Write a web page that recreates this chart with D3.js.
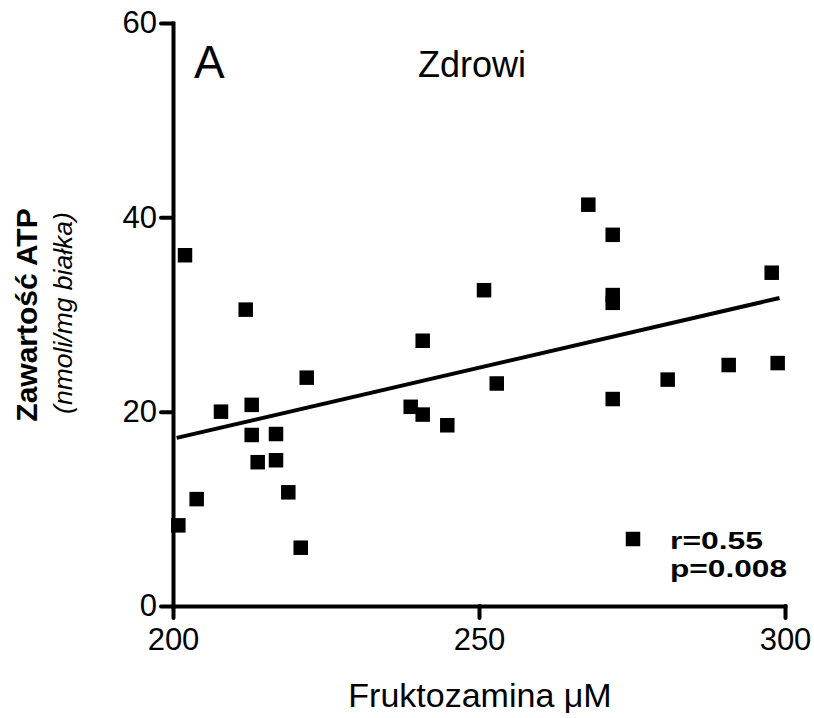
<!DOCTYPE html>
<html>
<head>
<meta charset="utf-8">
<script src="https://cdn.jsdelivr.net/npm/d3@7"></script>
<style>
  html, body { margin: 0; padding: 0; background: #fff; }
  svg { display: block; font-family: "Liberation Sans", Arial, sans-serif; }
</style>
</head>
<body>
<svg id="chart" width="814" height="718"></svg>
<script>
// ---- data ----
const fructosamine = [201.96, 211.88, 240.8, 221.85, 212.86, 207.84, 238.84, 240.8, 244.82, 212.86,
  216.83, 213.84, 216.83, 203.87, 218.84, 200.87, 220.87, 267.86, 271.85, 297.83,
  250.82, 271.85, 271.85, 252.9, 271.85, 280.83, 290.8, 298.8];
const atp = [36.1, 30.5, 27.3, 23.5, 20.7, 20.0, 20.5, 19.7, 18.6, 17.6,
  17.7, 14.8, 15.0, 11.0, 11.7, 8.3, 6.0, 41.3, 38.2, 34.3,
  32.5, 32.0, 31.2, 22.9, 21.3, 23.3, 24.8, 25.0];
const fitX = [200.6, 299.1];
const fitY = [17.3, 31.7];
const xTicks = [200, 250, 300];
const yTicks = [0, 20, 40, 60];
const panelLabel = "A";
const groupLabel = "Zdrowi";
const statLines = ["r=0.55", "p=0.008"];
const xTitle = "Fruktozamina \u03BCM";
const yTitle = "Zawartość ATP";
const ySubTitle = "(nmoli/mg białka)";

// ---- layout ----
const svg = d3.select("#chart");
const x = d3.scaleLinear().domain([200, 300]).range([173, 785]);
const y = d3.scaleLinear().domain([0, 60]).range([606, 23]);

// axes
const yAxis = svg.append("g").attr("transform", `translate(${x(200)},0)`)
  .call(d3.axisLeft(y).tickValues(yTicks).tickSize(12).tickSizeOuter(0).tickPadding(4));
const xAxis = svg.append("g").attr("transform", `translate(0,${y(0)})`)
  .call(d3.axisBottom(x).tickValues(xTicks).tickSize(12).tickSizeOuter(0).tickPadding(10));
[yAxis, xAxis].forEach(g => {
  g.selectAll("path.domain").attr("stroke", "#000").attr("stroke-width", 4).attr("stroke-linecap", "square");
  g.selectAll(".tick line").attr("stroke", "#000").attr("stroke-width", 4).attr("stroke-linecap", "round");
  g.selectAll(".tick text").attr("fill", "#000").style("font-size", "31px")
    .style("font-family", "'Liberation Sans', Arial, sans-serif");
});

// regression line
svg.append("path")
  .datum(fitX.map((v, i) => [v, fitY[i]]))
  .attr("d", d3.line().x(d => x(d[0])).y(d => y(d[1])))
  .attr("fill", "none").attr("stroke", "#000").attr("stroke-width", 4);

// points
const sq = d3.symbol().type(d3.symbolSquare).size(14.5 * 14.5);
svg.append("g").selectAll("path")
  .data(fructosamine.map((v, i) => [v, atp[i]]))
  .join("path")
  .attr("transform", d => `translate(${x(d[0])},${y(d[1])})`)
  .attr("d", sq).attr("fill", "#000");

// legend
svg.append("path").attr("transform", "translate(633,539)").attr("d", sq).attr("fill", "#000");
svg.append("text").attr("x", 670).attr("y", 549).attr("font-weight", "bold")
  .style("font-size", "23.5px").attr("textLength", 93).attr("lengthAdjust", "spacingAndGlyphs")
  .text(statLines[0]);
svg.append("text").attr("x", 670).attr("y", 577).attr("font-weight", "bold")
  .style("font-size", "23.5px").attr("textLength", 117).attr("lengthAdjust", "spacingAndGlyphs")
  .text(statLines[1]);

// panel label and group label
svg.append("text").attr("x", 194).attr("y", 78).style("font-size", "46px").text(panelLabel);
svg.append("text").attr("x", 418).attr("y", 77).style("font-size", "36px").text(groupLabel);

// x title
svg.append("text").attr("x", 480).attr("y", 707).attr("text-anchor", "middle")
  .style("font-size", "34px").text(xTitle);

// y titles
svg.append("text").attr("transform", "translate(37,315) rotate(-90)").attr("text-anchor", "middle")
  .attr("font-weight", "bold").style("font-size", "30px").text(yTitle);
svg.append("text").attr("transform", "translate(72,313) rotate(-90)").attr("text-anchor", "middle")
  .attr("font-style", "italic").style("font-size", "26.5px").text(ySubTitle);
</script>
</body>
</html>
